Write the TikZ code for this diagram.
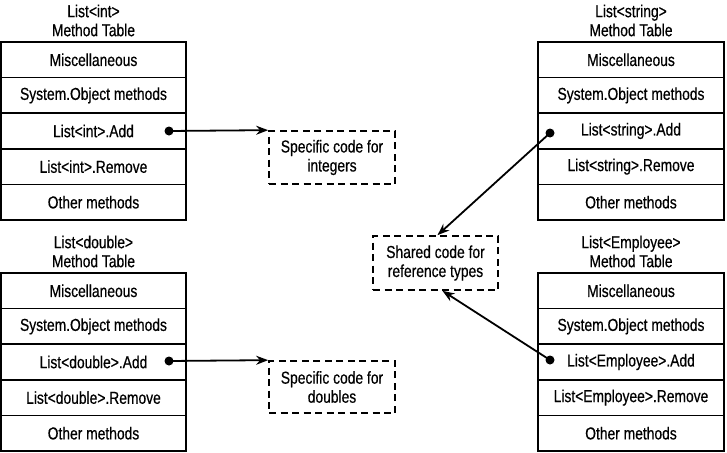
\documentclass[tikz,border=0pt]{standalone}
\usepackage{fontspec}
\setmainfont[FakeStretch=0.8,FakeBold=0.5]{Liberation Sans}
\usetikzlibrary{arrows.meta}
\begin{document}
\begin{tikzpicture}[x=1pt,y=-1pt,
  txt/.style={font=\fontsize{17.3}{19}\selectfont},
  cell/.style={txt, draw, line width=1.7pt, minimum width=185pt, minimum height=35.6pt, inner sep=0pt},
  ttl/.style={txt, align=center, inner sep=0pt},
  codebox/.style={txt, draw, line width=1.7pt, dash pattern=on 7pt off 4.5pt, align=center, inner sep=0pt, minimum width=126pt, minimum height=53pt},
  dotnode/.style={circle, fill, inner sep=0pt, minimum size=9pt},
  arr/.style={line width=1.8pt, -{Stealth[length=12pt,width=9pt]}}]
\useasboundingbox (0,0) rectangle (727,452);
% top-left table
\node[ttl] (t1) at (93.5,20.5) {List<int>\\Method Table};
\node[cell] (a1) at (93.5,59.8) {Miscellaneous};
\node[cell] (a2) at (93.5,95.4) {System.Object methods};
\node[cell] (a3) at (93.5,131) {List<int>.Add};
\node[cell] (a4) at (93.5,166.6) {List<int>.Remove};
\node[cell] (a5) at (93.5,202.2) {Other methods};
% bottom-left table
\node[ttl] (t2) at (93.5,251.5) {List<double>\\Method Table};
\node[cell] (b1) at (93.5,290.8) {Miscellaneous};
\node[cell] (b2) at (93.5,326.4) {System.Object methods};
\node[cell] (b3) at (93.5,362) {List<double>.Add};
\node[cell] (b4) at (93.5,397.6) {List<double>.Remove};
\node[cell] (b5) at (93.5,433.2) {Other methods};
% top-right table
\node[ttl] (t3) at (631,20.5) {List<string>\\Method Table};
\node[cell, minimum width=186pt] (c1) at (631,59.8) {Miscellaneous};
\node[cell, minimum width=186pt] (c2) at (631,95.4) {System.Object methods};
\node[cell, minimum width=186pt] (c3) at (631,131) {List<string>.Add};
\node[cell, minimum width=186pt] (c4) at (631,166.6) {List<string>.Remove};
\node[cell, minimum width=186pt] (c5) at (631,202.2) {Other methods};
% bottom-right table
\node[ttl] (t4) at (631,251.5) {List<Employee>\\Method Table};
\node[cell, minimum width=186pt] (d1) at (631,290.8) {Miscellaneous};
\node[cell, minimum width=186pt] (d2) at (631,326.4) {System.Object methods};
\node[cell, minimum width=186pt] (d3) at (631,362) {List<Employee>.Add};
\node[cell, minimum width=186pt] (d4) at (631,397.6) {List<Employee>.Remove};
\node[cell, minimum width=186pt] (d5) at (631,433.2) {Other methods};
% code boxes
\node[codebox] (ints) at (332,157.5) {Specific code for\\integers};
\node[codebox, minimum height=52pt] (dbls) at (332,387) {Specific code for\\doubles};
\node[codebox, minimum width=125pt, minimum height=54pt] (shared) at (435.5,263) {Shared code for\\reference types};
% dots
\node[dotnode] (pint) at (169,131) {};
\node[dotnode] (pdbl) at (169,361) {};
\node[dotnode] (pstr) at (550,133) {};
\node[dotnode] (pemp) at (550,360) {};
% arrows
\draw[arr] (pint.center) -- (ints.north west);
\draw[arr] (pdbl.center) -- (dbls.north west);
\draw[arr] (pstr.center) -- ([xshift=2pt]shared.north);
\draw[arr] (pemp.center) -- ([xshift=7pt]shared.south);
\end{tikzpicture}
\end{document}
